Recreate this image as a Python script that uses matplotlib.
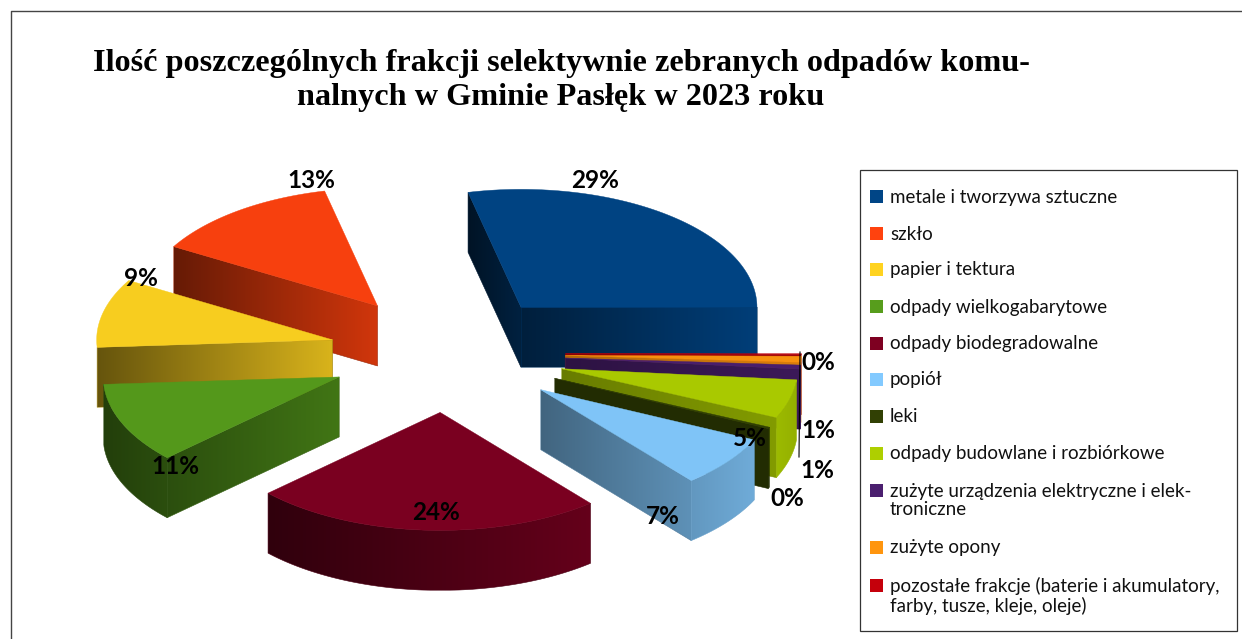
import numpy as np
import matplotlib
matplotlib.use("Agg")
import matplotlib.pyplot as plt
from matplotlib.colors import to_rgb
from matplotlib.patches import Polygon, Rectangle

TITLE = "Ilość poszczególnych frakcji selektywnie zebranych odpadów komu-\nnalnych w Gminie Pasłęk w 2023 roku"
categories = [
    "metale i tworzywa sztuczne",
    "szkło",
    "papier i tektura",
    "odpady wielkogabarytowe",
    "odpady biodegradowalne",
    "popiół",
    "leki",
    "odpady budowlane i rozbiórkowe",
    "zużyte urządzenia elektryczne i elek-\ntroniczne",
    "zużyte opony",
    "pozostałe frakcje (baterie i akumulatory,\nfarby, tusze, kleje, oleje)",
]
percent = [28.6, 13.0, 9.4, 11.0, 24, 7, 0.2, 5.3, 0.55, 0.85, 0.1]
colors = ["#004586", "#ff420e", "#ffd320", "#579d1c", "#7e0021", "#83caff",
          "#314004", "#aecf00", "#4b1f6f", "#ff950e", "#c5000b"]

# pie geometry, pixels
CX, CY = 447.5, 353.5
RX, RY = 236, 118
EXPLODE = 0.5
DEPTH = 60
TOP_BRIGHTNESS = 0.97
# back to front
DRAW_ORDER = [0, 10, 9, 8, 7, 6, 1, 2, 3, 5, 4]
# brightness of wall at its left and right end
START_WALL = {0: (0.45, 0.9), 5: (0.5, 0.72), 6: (0.7, 0.7), 7: (0.6, 0.75),
              8: (0.6, 0.8), 9: (0.7, 0.85), 10: (0.7, 0.8)}
END_WALL = {0: (0.28, 0.48), 1: (0.4, 0.82), 2: (0.4, 0.85), 3: (0.5, 0.75)}
# slices 9 and 10 sit behind the purple one, their rim does not show
ARC_WALL = {3: (0.4, 0.5), 4: (0.38, 0.8), 5: (0.75, 0.85), 6: (0.7, 0.7),
            7: (0.9, 0.85), 8: (0.75, 0.75)}
LABEL_POS = [(595, 180), (311, 180), (141, 279), (175, 466), (436, 512), (663, 517),
             (787, 498), (750, 439), (817, 470), (818, 430), (818, 363)]
LEGEND_Y = [197, 234, 270, 307, 344, 380, 417, 454, 500.5, 548, 596]

plt.rcParams["font.family"] = ["Lato", "DejaVu Sans"]


def ellipse_points(center, ang1, ang2, n=80):
    angles = np.radians(np.linspace(ang1, ang2, n))
    return np.column_stack(
        (center[0] + RX * np.cos(angles), center[1] - RY * np.sin(angles))
    )


def shade_polygon(axis, points, color, factors, zorder):
    """fill a polygon with a horizontal gradient of one base color"""
    points = np.asarray(points)
    x_min, x_max = points[:, 0].min(), points[:, 0].max()
    y_min, y_max = points[:, 1].min(), points[:, 1].max()
    ramp = np.linspace(factors[0], factors[1], 256)[None, :, None]
    image = axis.imshow(
        np.clip(ramp * np.array(to_rgb(color)), 0, 1),
        extent=(x_min, x_max, y_max, y_min),
        aspect="auto",
        interpolation="bilinear",
        zorder=zorder,
    )
    clip = Polygon(points, closed=True, transform=axis.transData, facecolor="none", edgecolor="none")
    axis.add_patch(clip)
    image.set_clip_path(clip)
    axis.add_patch(Polygon(points, closed=True, fill=False, linewidth=0.4,
                           edgecolor=np.array(to_rgb(color)) * np.mean(factors), zorder=zorder))


def radial_wall(center, angle):
    outer = ellipse_points(center, angle, angle, 1)[0]
    return [center, outer, outer + (0, DEPTH), np.array(center) + (0, DEPTH)]


fig = plt.figure(figsize=(12.42, 6.39), dpi=100)
ax = fig.add_axes([0, 0, 1, 1])
ax.set_xlim(0, 1242)
ax.set_ylim(639, 0)
ax.axis("off")
ax.set_autoscale_on(False)

# chart frame, runs off the image on the right and at the bottom
ax.plot([10.5, 10.5, 1242], [639, 10.5, 10.5], color="#444444", linewidth=1.0)

ax.text(561, 80.5, TITLE, family="Liberation Serif", fontweight="bold", fontsize=23.2,
        ha="center", va="center", linespacing=1.25, color="black")

bounds = np.cumsum([0] + percent) * 3.6
z = 2
for idx in DRAW_ORDER:
    ang1, ang2 = bounds[idx], bounds[idx + 1]
    mid = np.radians((ang1 + ang2) / 2)
    center = np.array((CX + EXPLODE * RX * np.cos(mid), CY - EXPLODE * RY * np.sin(mid)))
    color = colors[idx]
    if idx in END_WALL:
        shade_polygon(ax, radial_wall(center, ang2), color, END_WALL[idx], z)
    if idx in START_WALL:
        shade_polygon(ax, radial_wall(center, ang1), color, START_WALL[idx], z)
    low1, low2 = max(ang1, 180), min(ang2, 360)
    if low2 > low1 and idx in ARC_WALL:
        arc = ellipse_points(center, low1, low2)
        shade_polygon(ax, np.vstack((arc, arc[::-1] + (0, DEPTH))), color, ARC_WALL[idx], z + 0.1)
    top = np.vstack((center, ellipse_points(center, ang1, ang2)))
    top_color = np.array(to_rgb(color)) * TOP_BRIGHTNESS
    ax.add_patch(Polygon(top, closed=True, facecolor=top_color, edgecolor=top_color, linewidth=0.3, zorder=z + 0.2))
    z += 1

# leader line of the smallest slices
ax.plot([800, 799], [352, 457], color="black", linewidth=0.8, zorder=z)

for (x_pos, y_pos), value in zip(LABEL_POS, percent):
    ax.text(x_pos, y_pos, f"{round(value)}%", fontweight="bold", fontsize=17.5,
            ha="center", va="center", color="black", zorder=z + 1)

# legend
ax.add_patch(Rectangle((860, 170), 377, 461, facecolor="white", edgecolor="#333333", linewidth=0.9, zorder=z))
for name, color, y_pos in zip(categories, colors, LEGEND_Y):
    first_line_y = y_pos - 11 if "\n" in name else y_pos - 1
    ax.add_patch(Rectangle((870, first_line_y - 6), 13, 13, facecolor=color, edgecolor="none", zorder=z + 1))
    ax.text(890, y_pos, name, fontsize=13.5, ha="left", va="center", linespacing=1.12,
            color="#111111", zorder=z + 1)

fig.savefig("out.png", dpi=100)
